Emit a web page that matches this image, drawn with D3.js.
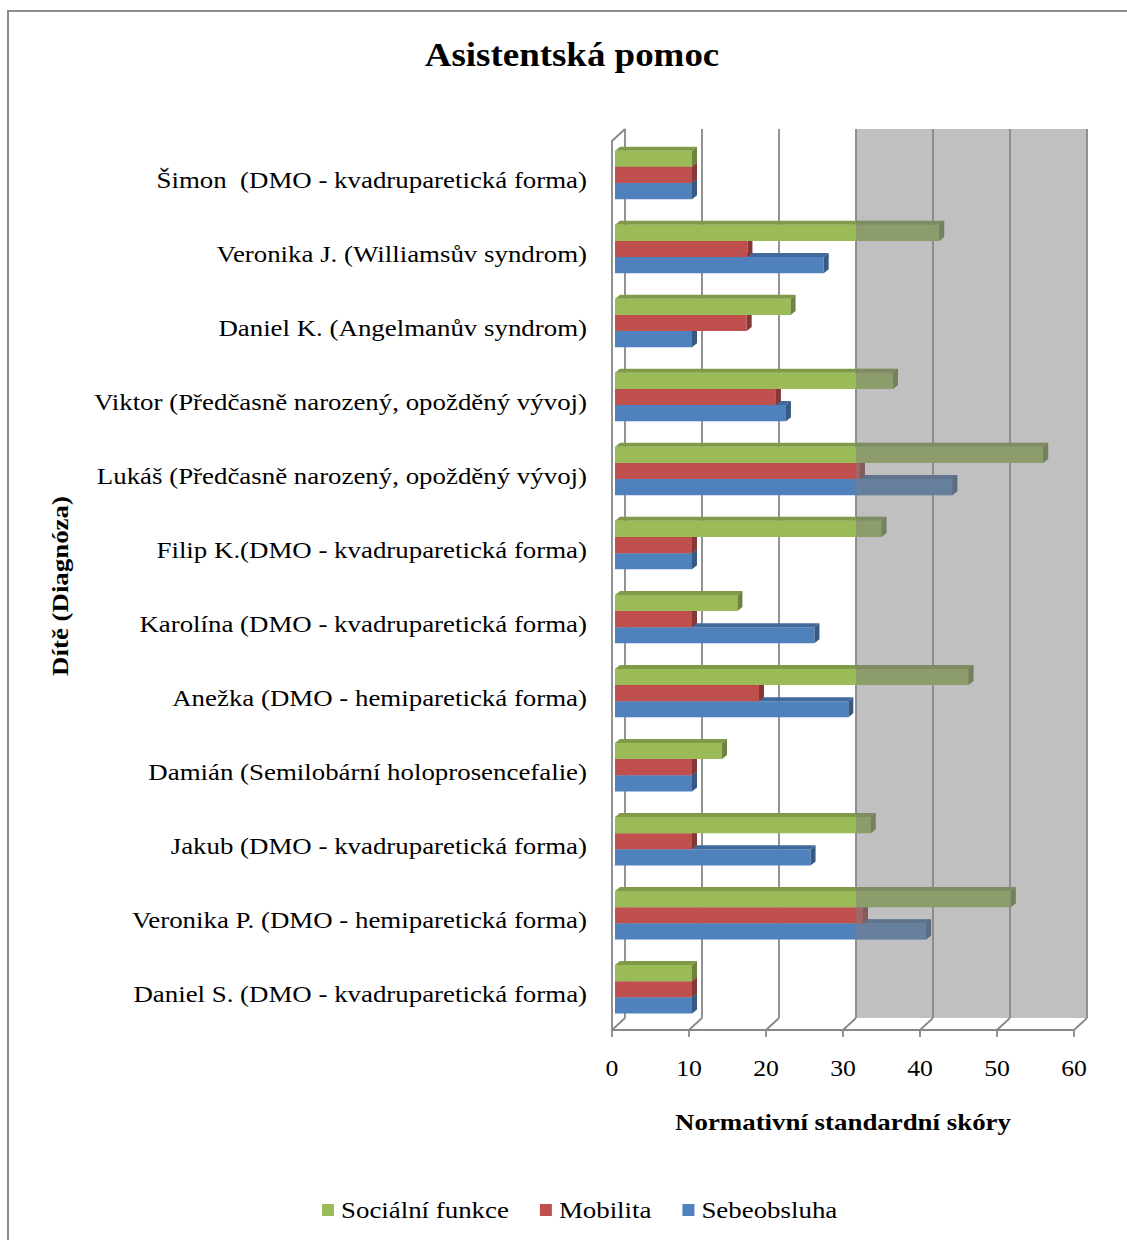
<!DOCTYPE html>
<html>
<head>
<meta charset="utf-8">
<script src="https://cdn.jsdelivr.net/npm/d3@7"></script>
<style>
  body { margin: 0; background: #fff; }
  svg { display: block; }
  text { font-family: "Liberation Serif", "Times New Roman", serif; fill: #000; white-space: pre; }
</style>
</head>
<body>
<svg id="chart" width="1127" height="1240"></svg>
<script>
// Children with their diagnosis, listed top to bottom
const categories = [
  "Šimon  (DMO - kvadruparetická forma)",
  "Veronika J. (Williamsův syndrom)",
  "Daniel K. (Angelmanův syndrom)",
  "Viktor (Předčasně narozený, opožděný vývoj)",
  "Lukáš (Předčasně narozený, opožděný vývoj)",
  "Filip K.(DMO - kvadruparetická forma)",
  "Karolína (DMO - kvadruparetická forma)",
  "Anežka (DMO - hemiparetická forma)",
  "Damián (Semilobární holoprosencefalie)",
  "Jakub (DMO - kvadruparetická forma)",
  "Veronika P. (DMO - hemiparetická forma)",
  "Daniel S. (DMO - kvadruparetická forma)"
];

// Normative standard scores per domain
const socialniFunkce = [10, 42.1, 22.8, 36.1, 55.6, 34.6, 15.9, 45.9, 13.9, 33.2, 51.4, 10];
const mobilita       = [10, 17.2, 17.1, 20.9, 31.8, 10, 10, 18.7, 10, 10, 32.2, 10];
const sebeobsluha    = [10, 27.1, 10, 22.2, 43.8, 10, 25.9, 30.3, 10, 25.4, 40.4, 10];

const seriesNames = ["Sociální funkce", "Mobilita", "Sebeobsluha"];
const seriesValues = [socialniFunkce, mobilita, sebeobsluha];
const seriesColors = ["#9bbb59", "#c0504d", "#4f81bd"];

const xTicks = [0, 10, 20, 30, 40, 50, 60];
const shadedFrom = 30;   // back wall is shaded grey from this score on

const SX = 1.12;         // horizontal stretch of all lettering
const svg = d3.select("#chart");

// ---- frame ----
svg.append("rect")
  .attr("x", 8).attr("y", 11).attr("width", 1200).attr("height", 1300)
  .attr("fill", "#fff").attr("stroke", "#8c8c8c").attr("stroke-width", 2);

// ---- 3D geometry ----
const floorY = 1030;          // front edge of the floor
const wallTop = 129;          // top of the back wall
const DX = 13, DY = -12;      // depth offset, front -> back wall
const BAR_DX = 5, BAR_DY = -4; // depth of each bar
const x = d3.scaleLinear().domain([0, 60]).range([612, 1074]);
const xBar = v => x(v) + 3;

const y = d3.scaleBand()
  .domain(categories)
  .range([137.9, 1026.3])
  .paddingInner(0.346)
  .paddingOuter(0.173);
const bh = y.bandwidth() / 3;

// grey part of the back wall
svg.append("rect")
  .attr("x", x(shadedFrom) + DX).attr("y", wallTop)
  .attr("width", x(60) - x(shadedFrom)).attr("height", floorY + DY - wallTop)
  .attr("fill", "#c0c0c0");

const grid = svg.append("g").attr("stroke", "#878787").attr("stroke-width", 1.8).attr("fill", "none");

// back-wall gridlines and floor diagonals
xTicks.forEach(t => {
  grid.append("line")
    .attr("x1", x(t) + DX).attr("x2", x(t) + DX)
    .attr("y1", wallTop).attr("y2", floorY + DY);
  grid.append("line")
    .attr("x1", x(t)).attr("y1", floorY)
    .attr("x2", x(t) + DX).attr("y2", floorY + DY);
  grid.append("line")
    .attr("x1", x(t)).attr("x2", x(t))
    .attr("y1", floorY).attr("y2", floorY + 7);
});
// front axis line
grid.append("line").attr("x1", x(0)).attr("x2", x(60)).attr("y1", floorY).attr("y2", floorY);
// left side wall outline
grid.append("path")
  .attr("d", `M${x(0)},${floorY} L${x(0)},${wallTop - DY} L${x(0) + DX},${wallTop}`);

// ---- bars ----
const clip = svg.append("defs").append("clipPath").attr("id", "shadeClip");
clip.append("rect").attr("x", x(shadedFrom) + DX).attr("y", 0).attr("width", 400).attr("height", 1240);

function barShapes(x0, x1, y0) {
  const y1 = y0 + bh;
  return {
    front: `M${x0},${y0}H${x1}V${y1}H${x0}Z`,
    top: `M${x0},${y0}L${x0 + BAR_DX},${y0 + BAR_DY}H${x1 + BAR_DX}L${x1},${y0}Z`,
    end: `M${x1},${y0}L${x1 + BAR_DX},${y0 + BAR_DY}V${y1 + BAR_DY}L${x1},${y1}Z`
  };
}

const barsG = svg.append("g");
categories.forEach((cat, i) => {
  for (let s = 2; s >= 0; s--) {
    const v = seriesValues[s][i];
    const base = d3.color(seriesColors[s]);
    const shp = barShapes(xBar(0), xBar(v), y(cat) + s * bh);
    const g = barsG.append("g");
    g.append("path").attr("d", shp.front).attr("fill", base.formatHex());
    g.append("path").attr("d", shp.top).attr("fill", base.darker(0.55).formatHex());
    g.append("path").attr("d", shp.end).attr("fill", base.darker(1.0).formatHex());
    const ov = g.append("g").attr("clip-path", "url(#shadeClip)").attr("fill", "rgba(126,126,126,0.5)");
    ov.append("path").attr("d", shp.front);
    ov.append("path").attr("d", shp.top);
    ov.append("path").attr("d", shp.end);
  }
});

// ---- category labels ----
svg.append("g").selectAll("text").data(categories).join("text")
  .attr("transform", d => `translate(587,${y(d) + y.bandwidth() / 2 + 13}) scale(${SX},1)`)
  .attr("text-anchor", "end")
  .attr("font-size", 24)
  .text(d => d);

// ---- x tick labels ----
svg.append("g").selectAll("text").data(xTicks).join("text")
  .attr("transform", d => `translate(${x(d)},1076) scale(${SX},1)`)
  .attr("text-anchor", "middle")
  .attr("font-size", 23)
  .text(d => d);

// ---- titles ----
svg.append("text")
  .attr("transform", `translate(572,66) scale(${SX},1)`)
  .attr("text-anchor", "middle").attr("font-size", 33).attr("font-weight", "bold")
  .text("Asistentská pomoc");

svg.append("text")
  .attr("transform", `translate(${(x(0) + x(60)) / 2},1130) scale(${SX},1)`)
  .attr("text-anchor", "middle").attr("font-size", 24).attr("font-weight", "bold")
  .text("Normativní standardní skóry");

svg.append("text")
  .attr("transform", `translate(68,586) rotate(-90) scale(${SX},1)`)
  .attr("text-anchor", "middle").attr("font-size", 24).attr("font-weight", "bold")
  .text("Dítě (Diagnóza)");

// ---- legend ----
const legend = svg.append("g");
let lx = 322;
seriesNames.forEach((name, s) => {
  legend.append("rect").attr("x", lx).attr("y", 1204).attr("width", 12).attr("height", 12)
    .attr("fill", seriesColors[s]);
  const t = legend.append("text")
    .attr("transform", `translate(${lx + 19},1218) scale(${SX},1)`)
    .attr("font-size", 24)
    .text(name);
  lx += 19 + t.node().getComputedTextLength() * SX + 31;
});
</script>
</body>
</html>
